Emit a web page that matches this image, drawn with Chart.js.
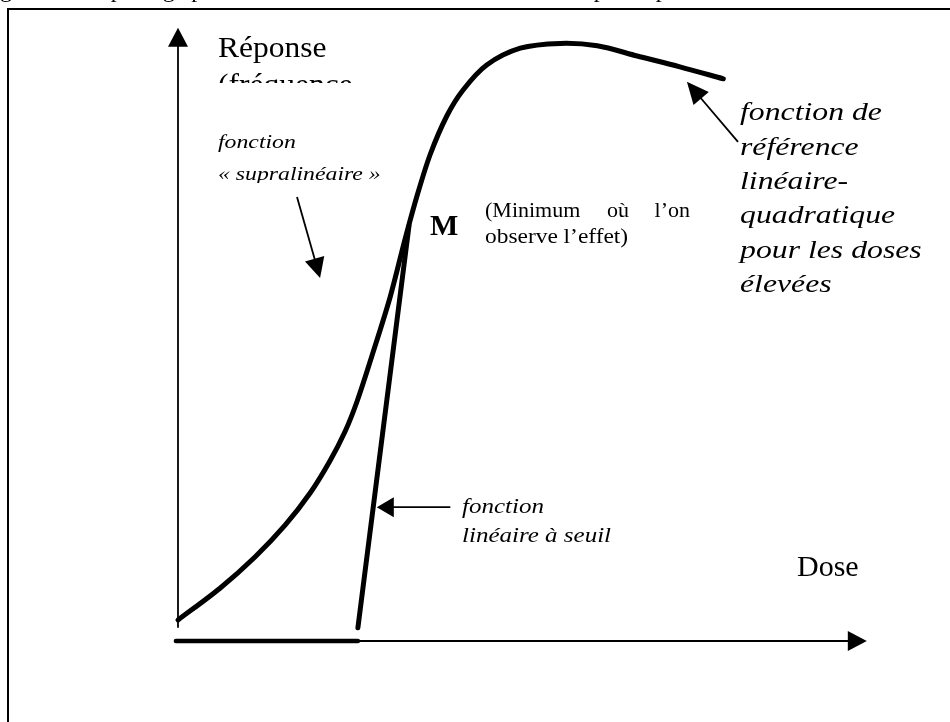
<!DOCTYPE html>
<html lang="fr">
<head>
<meta charset="utf-8">
<title>Courbe dose-réponse</title>
<script src="https://cdn.jsdelivr.net/npm/chart.js@4.4.1/dist/chart.umd.min.js"></script>
<style>
  html, body { margin: 0; padding: 0; background: #fff; }
  #wrap { width: 950px; height: 722px; }
</style>
</head>
<body>
<div id="wrap"><canvas id="chart" width="950" height="722"></canvas></div>
<script>
// ==============================
//  DATA (dose / réponse, unités arbitraires)
// ==============================
// courbe supralinéaire puis linéaire-quadratique
const DOSE_CURVE = [0, 0.6, 1.1, 1.53, 1.89, 2.17, 2.39, 2.56, 2.77, 3.03, 3.24, 3.41, 3.6, 3.84, 4.07, 4.41, 4.89, 5.46, 5.99, 6.56, 7.17, 7.79];
const RESP_CURVE = [0.35, 0.88, 1.4, 1.93, 2.47, 3.0, 3.5, 4.0, 4.75, 5.73, 6.68, 7.4, 8.1, 8.75, 9.18, 9.6, 9.88, 9.96, 9.92, 9.75, 9.57, 9.37];

// fonction linéaire à seuil
const DOSE_SEUIL = [2.57, 3.3];
const RESP_SEUIL = [0.22, 6.92];

// palier nul sous le seuil
const DOSE_ZERO = [-0.03, 2.57];
const RESP_ZERO = [0, 0];

// axes
const AXIS_X_END = 9.84;
const AXIS_Y_START = 0.22;
const AXIS_Y_END = 10.22;

// flèches d'annotation : [dose départ, réponse départ, dose pointe, réponse pointe]
const ARROW_SUPRA = [1.7, 7.4, 2.03, 6.05];
const ARROW_SEUIL = [3.89, 2.23, 2.84, 2.23];
const ARROW_REF   = [8.0, 8.32, 7.27, 9.32];

// ==============================
//  LAYOUT
// ==============================
const W = 950, H = 722;
const X_MIN = -178 / 70, X_MAX = (W - 178) / 70;
const Y_MIN = -(H - 641) / 60, Y_MAX = 641 / 60;
const SERIF = '"Liberation Serif", "Times New Roman", serif';

const LABELS = [
  { text: 'Réponse', x: 218, y: 57, size: 30, sx: 1.05 },
  { text: '(fréquence', x: 218, y: 94, size: 30, sx: 1.05, clip: 83 },
  { text: 'fonction', x: 218, y: 148, size: 19, sx: 1.25, italic: true },
  { text: '« supralinéaire »', x: 218, y: 180, size: 19, sx: 1.25, italic: true, clip: 183 },
  { text: 'M', x: 430, y: 235, size: 30, sx: 1.0, bold: true },
  { text: '(Minimum', x: 485, y: 217, size: 20, sx: 1.1 },
  { text: 'où', x: 607, y: 217, size: 20, sx: 1.1 },
  { text: 'l\u2019on', x: 690, y: 217, size: 20, sx: 1.1, align: 'right' },
  { text: 'observe l\u2019effet)', x: 485, y: 243, size: 20, sx: 1.17 },
  { text: 'fonction de', x: 740, y: 120, size: 25, sx: 1.27, italic: true },
  { text: 'référence', x: 740, y: 154.5, size: 25, sx: 1.27, italic: true },
  { text: 'linéaire-', x: 740, y: 189, size: 25, sx: 1.27, italic: true },
  { text: 'quadratique', x: 740, y: 223, size: 25, sx: 1.27, italic: true },
  { text: 'pour les doses', x: 740, y: 257.5, size: 25, sx: 1.27, italic: true },
  { text: 'élevées', x: 740, y: 292, size: 25, sx: 1.27, italic: true },
  { text: 'fonction', x: 462, y: 513, size: 20, sx: 1.25, italic: true },
  { text: 'linéaire à seuil', x: 462, y: 542, size: 20, sx: 1.25, italic: true },
  { text: 'Dose', x: 797, y: 576, size: 30, sx: 1.0 },
  { text: 'Figure 4 : Le passage possible des modèles de la courbe dose-réponse pour les faibles doses', x: -20, y: -3, size: 24, sx: 1.0, clip: 5 },
];

// ==============================
//  HELPERS
// ==============================
const pts = (xs, ys) => xs.map((x, i) => ({ x, y: ys[i] }));

function arrowHead(ctx, x0, y0, x1, y1, len, half) {
  const a = Math.atan2(y1 - y0, x1 - x0);
  const c = Math.cos(a), s = Math.sin(a);
  ctx.beginPath();
  ctx.moveTo(x1, y1);
  ctx.lineTo(x1 - len * c + half * s, y1 - len * s - half * c);
  ctx.lineTo(x1 - len * c - half * s, y1 - len * s + half * c);
  ctx.closePath();
  ctx.fill();
}

function drawArrow(ctx, xs, ys, arr, len, half) {
  const x0 = xs.getPixelForValue(arr[0]), y0 = ys.getPixelForValue(arr[1]);
  const x1 = xs.getPixelForValue(arr[2]), y1 = ys.getPixelForValue(arr[3]);
  const a = Math.atan2(y1 - y0, x1 - x0);
  ctx.beginPath();
  ctx.moveTo(x0, y0);
  ctx.lineTo(x1 - (len - 2) * Math.cos(a), y1 - (len - 2) * Math.sin(a));
  ctx.stroke();
  arrowHead(ctx, x0, y0, x1, y1, len, half);
}

function drawLabel(ctx, l) {
  ctx.save();
  if (l.clip !== undefined) {
    ctx.beginPath();
    ctx.rect(0, 0, W, l.clip);
    ctx.clip();
  }
  ctx.translate(l.x, l.y);
  ctx.scale(l.sx, 1);
  ctx.font = `${l.italic ? 'italic ' : ''}${l.bold ? 'bold ' : ''}${l.size}px ${SERIF}`;
  ctx.textAlign = l.align || 'left';
  ctx.textBaseline = 'alphabetic';
  ctx.fillStyle = '#000';
  ctx.fillText(l.text, 0, 0);
  ctx.restore();
}

// ==============================
//  PLUGIN : cadre, flèches, textes
// ==============================
const decor = {
  id: 'decor',
  beforeDatasetsDraw(chart) {
    const ctx = chart.ctx;
    ctx.save();
    ctx.strokeStyle = '#000';
    ctx.lineWidth = 2;
    ctx.beginPath();
    ctx.moveTo(8, H);
    ctx.lineTo(8, 9);
    ctx.lineTo(W, 9);
    ctx.stroke();
    ctx.restore();
  },
  afterDatasetsDraw(chart) {
    const ctx = chart.ctx;
    const xs = chart.scales.x, ys = chart.scales.y;
    ctx.save();
    ctx.fillStyle = '#000';
    ctx.strokeStyle = '#000';
    ctx.lineWidth = 1.8;

    // pointes des axes
    const ox = xs.getPixelForValue(0), oy = ys.getPixelForValue(0);
    arrowHead(ctx, ox, oy, xs.getPixelForValue(AXIS_X_END), oy, 19, 10);
    arrowHead(ctx, ox, oy, ox, ys.getPixelForValue(AXIS_Y_END), 19, 10);

    // flèches d'annotation
    drawArrow(ctx, xs, ys, ARROW_SUPRA, 20, 10);
    drawArrow(ctx, xs, ys, ARROW_SEUIL, 17, 10);
    drawArrow(ctx, xs, ys, ARROW_REF, 22, 10);

    LABELS.forEach(l => drawLabel(ctx, l));
    ctx.restore();
  }
};

// ==============================
//  CHART
// ==============================
const thick = { borderColor: '#000', borderWidth: 5, pointRadius: 0, showLine: true, borderCapStyle: 'round', borderJoinStyle: 'round' };
const thin  = { borderColor: '#000', borderWidth: 1.8, pointRadius: 0, showLine: true };

new Chart(document.getElementById('chart'), {
  type: 'scatter',
  data: {
    datasets: [
      { ...thick, label: 'linéaire-quadratique', data: pts(DOSE_CURVE, RESP_CURVE), tension: 0.3 },
      { ...thick, label: 'linéaire à seuil', data: pts(DOSE_SEUIL, RESP_SEUIL) },
      { ...thick, label: 'palier', data: pts(DOSE_ZERO, RESP_ZERO), borderWidth: 4.5 },
      { ...thin, label: 'axe x', data: pts([0, AXIS_X_END - 15 / 70], [0, 0]) },
      { ...thin, label: 'axe y', data: pts([0, 0], [AXIS_Y_START, AXIS_Y_END - 15 / 60]) },
    ]
  },
  options: {
    responsive: false,
    animation: false,
    events: [],
    layout: { padding: 0 },
    plugins: { legend: { display: false }, tooltip: { enabled: false } },
    scales: {
      x: { type: 'linear', min: X_MIN, max: X_MAX, display: false },
      y: { type: 'linear', min: Y_MIN, max: Y_MAX, display: false }
    }
  },
  plugins: [decor]
});
</script>
</body>
</html>
